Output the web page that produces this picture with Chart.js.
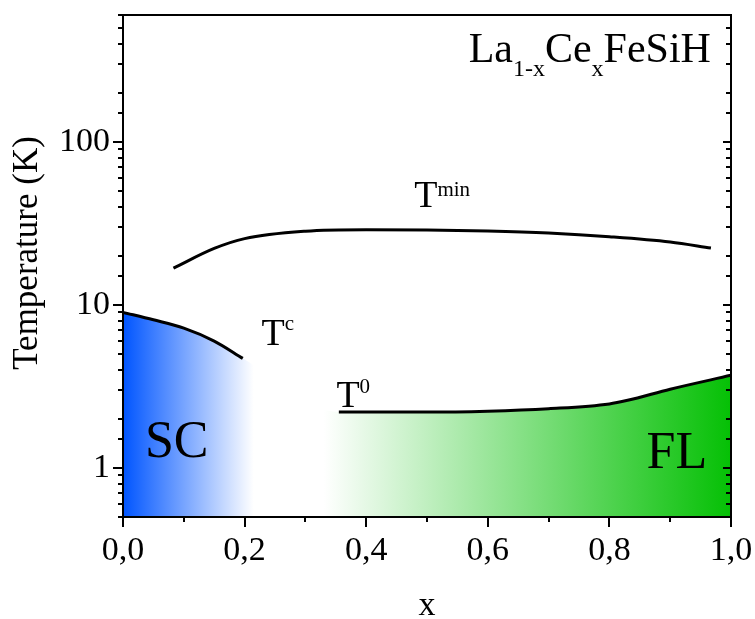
<!DOCTYPE html>
<html>
<head>
<meta charset="utf-8">
<script src="https://cdn.jsdelivr.net/npm/chart.js@4.4.1/dist/chart.umd.min.js"></script>
<style>
  html, body { margin: 0; padding: 0; background: #fff; }
  #wrap { width: 755px; height: 619px; }
</style>
</head>
<body>
<div id="wrap"><canvas id="phaseChart" width="755" height="619"></canvas></div>
<script>
// Tc line (superconducting transition)
const tcX = [0, 0.05, 0.1, 0.15, 0.197];
const tcY = [9.0, 8.1, 7.2, 6.0, 4.7];
// T0 line (Fermi liquid boundary)
const t0X = [0.355, 0.4, 0.5, 0.6, 0.7, 0.8, 0.83, 0.9, 1.0];
const t0Y = [2.2, 2.2, 2.2, 2.23, 2.31, 2.47, 2.6, 3.04, 3.7];
// Tmin line
const tminX = [0.083, 0.15, 0.2, 0.3, 0.4, 0.5, 0.6, 0.7, 0.8, 0.9, 0.967];
const tminY = [16.8, 22.2, 25.5, 28.3, 28.9, 28.8, 28.4, 27.6, 26.2, 24.3, 22.3];
// labelled ticks
const xTickLabels = [0, 0.2, 0.4, 0.6, 0.8, 1.0];
const yTickLabels = [1, 10, 100];

const FONT = "'Liberation Serif', 'Times New Roman', serif";
const pts = (xs, ys) => xs.map((x, i) => ({ x: x, y: ys[i] }));

function isLabelled(list, v) {
  return list.some(t => Math.abs(t - v) < 1e-9 * Math.max(1, t));
}

// text with sub/superscripts: parts = [[text, size, dy], ...]
function drawRich(ctx, parts, x, y, align) {
  let w = 0;
  parts.forEach(p => { ctx.font = p[1] + 'px ' + FONT; w += ctx.measureText(p[0]).width; });
  let cx = align === 'right' ? x - w : (align === 'center' ? x - w / 2 : x);
  ctx.textAlign = 'left';
  ctx.textBaseline = 'alphabetic';
  parts.forEach(p => {
    ctx.font = p[1] + 'px ' + FONT;
    ctx.fillText(p[0], cx, y + (p[2] || 0));
    cx += ctx.measureText(p[0]).width;
  });
}

const framePlugin = {
  id: 'frame',
  afterDatasetsDraw(chart) {
    const { ctx, chartArea: a, scales: { x, y } } = chart;
    ctx.save();
    ctx.strokeStyle = '#000';
    ctx.lineWidth = 2;
    ctx.strokeRect(a.left, a.top, a.right - a.left, a.bottom - a.top);
    ctx.beginPath();
    x.ticks.forEach(t => {
      const px = Math.round(x.getPixelForValue(t.value));
      const len = isLabelled(xTickLabels, t.value) ? 10 : 5;
      ctx.moveTo(px, a.bottom);
      ctx.lineTo(px, a.bottom + len);
    });
    y.ticks.forEach(t => {
      const py = Math.round(y.getPixelForValue(t.value));
      const major = isLabelled(yTickLabels, t.value);
      ctx.moveTo(a.left, py);
      ctx.lineTo(a.left - (major ? 10 : 5), py);
      ctx.moveTo(a.right, py);
      ctx.lineTo(a.right - (major ? 8 : 5), py);
    });
    ctx.stroke();
    ctx.restore();
  },
  afterDraw(chart) {
    const { ctx, scales: { x, y } } = chart;
    ctx.save();
    ctx.fillStyle = '#000';
    const X = v => x.getPixelForValue(v);
    const Y = v => y.getPixelForValue(v);
    drawRich(ctx, [['La', 42], ['1-x', 24, 14], ['Ce', 42], ['x', 24, 14], ['FeSiH', 42]], X(0.967), Y(310), 'right');
    drawRich(ctx, [['T', 38], ['min', 21, -11]], X(0.479), Y(40), 'left');
    drawRich(ctx, [['T', 38], ['c', 21, -15]], X(0.228), Y(5.69), 'left');
    drawRich(ctx, [['T', 38], ['0', 21, -14]], X(0.351), Y(2.38), 'left');
    drawRich(ctx, [['SC', 52]], X(0.036), Y(1.17), 'left');
    drawRich(ctx, [['FL', 52]], X(0.961), Y(1.0), 'right');
    // axis titles
    ctx.font = '34px ' + FONT;
    ctx.textAlign = 'center';
    ctx.fillText('x', (chart.chartArea.left + chart.chartArea.right) / 2, 615);
    ctx.translate(37, 253);
    ctx.rotate(-Math.PI / 2);
    ctx.font = '35px ' + FONT;
    ctx.fillText('Temperature (K)', 0, 0);
    ctx.restore();
  }
};

const ctx = document.getElementById('phaseChart').getContext('2d');
const phaseChart = new Chart(ctx, {
  type: 'line',
  data: {
    datasets: [
      { data: pts(tminX, tminY), borderColor: '#000', borderWidth: 3, pointRadius: 0, cubicInterpolationMode: 'monotone', fill: false },
      { data: pts(tcX, tcY), borderColor: '#000', borderWidth: 3, pointRadius: 0, cubicInterpolationMode: 'monotone', fill: false },
      { data: pts(t0X, t0Y), borderColor: '#000', borderWidth: 3, pointRadius: 0, cubicInterpolationMode: 'monotone', fill: false },
      {
        // phase region below Tc and T0
        data: pts(tcX.concat(t0X), tcY.concat(t0Y)),
        borderWidth: 0,
        borderColor: 'rgba(0,0,0,0)',
        pointRadius: 0,
        cubicInterpolationMode: 'monotone',
        fill: 'start',
        backgroundColor: (c) => {
          const area = c.chart.chartArea;
          if (!area) return 'rgba(0,0,0,0)';
          const g = c.chart.ctx.createLinearGradient(area.left, 0, area.right, 0);
          g.addColorStop(0, 'rgb(0,85,255)');
          g.addColorStop(0.215, 'rgb(255,255,255)');
          g.addColorStop(0.33, 'rgb(255,255,255)');
          g.addColorStop(1, 'rgb(5,192,5)');
          return g;
        }
      }
    ]
  },
  options: {
    responsive: false,
    animation: false,
    parsing: false,
    layout: { padding: { top: 15, right: 24, left: 0, bottom: 0 } },
    plugins: { legend: { display: false }, tooltip: { enabled: false } },
    scales: {
      x: {
        type: 'linear',
        min: 0,
        max: 1,
        grid: { display: false, drawTicks: false },
        border: { display: false },
        afterFit: s => { s.height = 102; s.paddingLeft = 0; s.paddingRight = 0; },
        ticks: {
          stepSize: 0.1,
          autoSkip: false,
          maxRotation: 0,
          padding: 14,
          color: '#000',
          font: { family: FONT, size: 34 },
          callback: v => isLabelled(xTickLabels, v) ? v.toFixed(1).replace('.', ',') : ''
        }
      },
      y: {
        type: 'logarithmic',
        min: 0.5,
        max: 600,
        grid: { display: false, drawTicks: false },
        border: { display: false },
        afterFit: s => { s.width = 123; s.paddingTop = 0; s.paddingBottom = 0; },
        ticks: {
          autoSkip: false,
          padding: 13,
          color: '#000',
          font: { family: FONT, size: 34 },
          callback: v => isLabelled(yTickLabels, v) ? String(Math.round(v)) : ''
        }
      }
    }
  },
  plugins: [framePlugin]
});
</script>
</body>
</html>
